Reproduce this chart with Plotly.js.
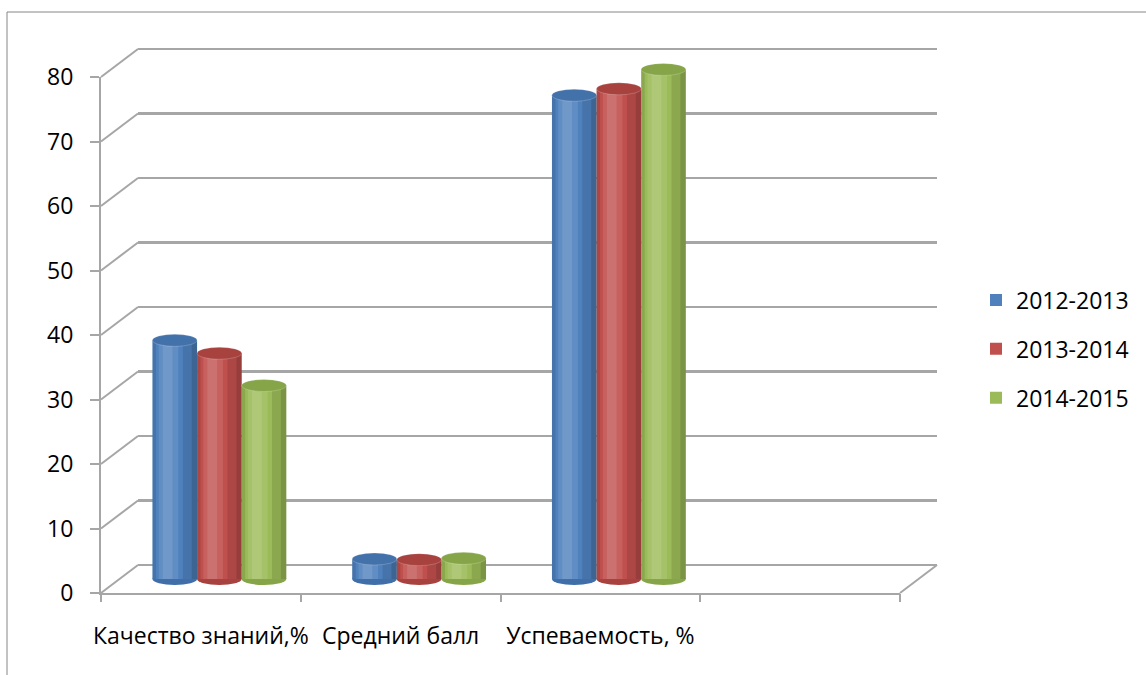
<!DOCTYPE html>
<html>
<head>
<meta charset="utf-8">
<script src="https://cdn.plot.ly/plotly-3.0.1.min.js"></script>
<style>html,body{margin:0;padding:0;background:#fff;}#chart{width:1146px;height:675px;}</style>
</head>
<body>
<div id="chart"></div>
<script>
// ---- data ----
const categories = ["Качество знаний,%", "Средний балл", "Успеваемость, %"];
const years = ["2012-2013", "2013-2014", "2014-2015"];
const s2012 = [37, 3.1, 75];
const s2013 = [35, 3.0, 76];
const s2014 = [30, 3.2, 79];
const yTicks = [0, 10, 20, 30, 40, 50, 60, 70, 80];

// ---- style / geometry ----
const W = 1146, H = 675;
const fx = p => p / W, fy = p => 1 - p / H;
const FX0 = 101, FX1 = 900, FY0 = 593, FY80 = 77;   // front plane (px)
const DX = 37, DY = -28;                             // depth offset (px)
const unit = (FY0 - FY80) / 80;
const nSlots = 4;
const xRange = [-0.5, nSlots - 0.5];
const grey = "#a6a6a6";
const fontFam = "'Open Sans', 'Noto Sans', sans-serif";
const FS = 23;

const series = [s2012, s2013, s2014];
const baseCol = ["#4f81bd", "#c0504d", "#9bbb59"];
const topCol = ["#4371aa", "#a8423f", "#86a548"];
const botCol = ["#3f6ea8", "#a8423f", "#86a548"];
const stripes = [
  {pos: 0.04, w: 0.08, color: "#000", op: 0.10},
  {pos: 0.36, w: 0.44, color: "#fff", op: 0.10},
  {pos: 0.34, w: 0.22, color: "#fff", op: 0.10},
  {pos: 0.84, w: 0.32, color: "#000", op: 0.10},
  {pos: 0.94, w: 0.12, color: "#000", op: 0.12}
];
const groupW = 0.67, barW = groupW / 3;

// helper: y-domain for an axis whose 0 sits at y0px, with given range
const yDom = (y0px, r) => [fy(y0px - r[0] * unit), fy(y0px - r[1] * unit)];

// mid-depth axes for bars
const MY0 = FY0 + DY / 2, MX0 = FX0 + DX / 2, MX1 = FX1 + DX / 2;
const y3Range = [-3, 82];
const y2Range = [-0.5, 80.5];

const ry = 6 / unit;
const traces = [];
const shapes = [];

series.forEach((vals, i) => {
  const off = -groupW / 2 + i * barW;
  traces.push({
    type: "bar", x: categories.map((c, k) => k), y: vals,
    xaxis: "x3", yaxis: "y3", width: barW, offset: off,
    name: years[i], legendgroup: years[i],
    marker: {color: baseCol[i], line: {width: 0}},
    hovertext: categories, hoverinfo: "text+y+name"
  });
});
series.forEach((vals, i) => {
  const off = -groupW / 2 + i * barW;
  stripes.forEach(s => {
    traces.push({
      type: "bar", x: categories.map((c, k) => k), y: vals,
      xaxis: "x3", yaxis: "y3", width: barW * s.w, offset: off + barW * (s.pos - s.w / 2),
      marker: {color: s.color, opacity: s.op, line: {width: 0}},
      showlegend: false, hoverinfo: "skip", legendgroup: years[i]
    });
  });
  vals.forEach((v, k) => {
    const x0 = k + off, x1 = k + off + barW;
    shapes.push({type: "circle", xref: "x3", yref: "y3", x0: x0, x1: x1, y0: -ry, y1: ry,
      fillcolor: botCol[i], line: {width: 0}, layer: "between"});
    shapes.push({type: "circle", xref: "x3", yref: "y3", x0: x0, x1: x1, y0: v - ry, y1: v + ry,
      fillcolor: topCol[i], line: {width: 0.8, color: "rgba(255,255,255,0.25)"}, layer: "above"});
  });
});

// left wall diagonals, floor right diagonal
yTicks.forEach(v => {
  const yf = FY0 - v * unit;
  shapes.push({type: "line", xref: "paper", yref: "paper",
    x0: fx(FX0), y0: fy(yf), x1: fx(FX0 + DX), y1: fy(yf + DY),
    line: {color: grey, width: 2}, layer: "below"});
});
shapes.push({type: "line", xref: "paper", yref: "paper",
  x0: fx(FX1), y0: fy(FY0), x1: fx(FX1 + DX), y1: fy(FY0 + DY),
  line: {color: grey, width: 2}, layer: "below"});
// outer frame
shapes.push({type: "line", xref: "paper", yref: "paper", x0: fx(7), y0: fy(12), x1: 1, y1: fy(12),
  line: {color: "#868686", width: 1}});
shapes.push({type: "line", xref: "paper", yref: "paper", x0: fx(7), y0: fy(12), x1: fx(7), y1: 0,
  line: {color: "#868686", width: 1}});

const layout = {
  width: W, height: H,
  margin: {l: 0, r: 0, t: 0, b: 0},
  paper_bgcolor: "#fff", plot_bgcolor: "rgba(0,0,0,0)",
  barmode: "overlay",
  font: {family: fontFam, size: FS, color: "#000"},
  showlegend: true,
  legend: {x: fx(976), xanchor: "left", y: fy(349), yanchor: "middle",
    font: {family: fontFam, size: FS, color: "#000"}, tracegroupgap: 16, bgcolor: "rgba(0,0,0,0)"},
  // front plane
  xaxis: {domain: [fx(FX0), fx(FX1)], range: xRange, anchor: "y",
    tickmode: "array", tickvals: categories.map((c, k) => k), ticktext: categories,
    ticks: "", showline: true, linecolor: grey, linewidth: 2, showgrid: false, zeroline: false,
    ticklabelstandoff: 21, tickfont: {family: fontFam, size: FS, color: "#000"}},
  yaxis: {domain: [fy(FY0), fy(FY80)], range: [0, 80], anchor: "x",
    tickmode: "array", tickvals: yTicks, ticks: "outside", ticklen: 9, tickwidth: 2, tickcolor: grey,
    showline: true, linecolor: grey, linewidth: 2, showgrid: false, zeroline: false,
    ticklabelstandoff: 12, tickfont: {family: fontFam, size: FS, color: "#000"}},
  // boundary ticks on front x
  xaxis4: {domain: [fx(FX0), fx(FX1)], range: xRange, anchor: "y",
    tickmode: "array", tickvals: [-0.5, 0.5, 1.5, 2.5, 3.5], ticks: "outside", ticklen: 8, tickwidth: 2,
    tickcolor: grey, showticklabels: false, showline: false, showgrid: false, zeroline: false},
  // back wall
  xaxis2: {domain: [fx(FX0 + DX), fx(FX1 + DX)], range: xRange, anchor: "y2", visible: false},
  yaxis2: {domain: yDom(FY0 + DY, y2Range), range: y2Range, anchor: "x2",
    tickmode: "array", tickvals: yTicks, showticklabels: false, ticks: "",
    showgrid: true, gridcolor: grey, gridwidth: 2.5,
    zeroline: false, showline: false},
  // mid depth (bars)
  xaxis3: {domain: [fx(MX0), fx(MX1)], range: xRange, anchor: "y3", visible: false},
  yaxis3: {domain: yDom(MY0, y3Range), range: y3Range, anchor: "x3", visible: false},
  shapes: shapes
};

// empty traces that make the front and back subplots exist
traces.push({type: "scatter", x: [null], y: [null], xaxis: "x", yaxis: "y", showlegend: false, hoverinfo: "skip"});
traces.push({type: "scatter", x: [null], y: [null], xaxis: "x4", yaxis: "y", showlegend: false, hoverinfo: "skip"});
traces.push({type: "scatter", x: [null], y: [null], xaxis: "x2", yaxis: "y2", showlegend: false, hoverinfo: "skip"});

Plotly.newPlot("chart", traces, layout, {displayModeBar: false, staticPlot: true});
</script>
</body>
</html>
